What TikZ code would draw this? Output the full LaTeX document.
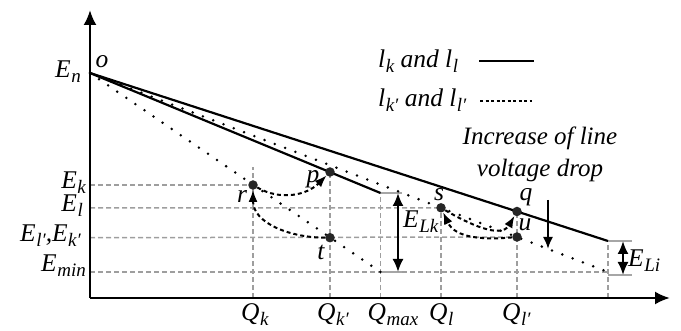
\documentclass[tikz,border=0pt]{standalone}
\usepackage{fontspec}
\setmainfont{Liberation Serif}
\usetikzlibrary{arrows.meta,calc,positioning}
\newcommand{\sub}[2]{#1\kern0.5pt\raisebox{-0.19em}{\fontsize{19}{20}\selectfont #2}}

\begin{document}
\begin{tikzpicture}[x=1pt,y=-1pt,font=\fontsize{25.5}{30}\selectfont\itshape,
  axis/.style={line width=2.4pt,-{Latex[length=15pt,width=13pt]}},
  solidln/.style={line width=2.2pt},
  dotln/.style={line width=2.8pt,line cap=round,dash pattern=on 0pt off 11pt},
  grid/.style={draw=black!38,line width=1.5pt,dash pattern=on 5pt off 3pt},
  bar/.style={draw=black!35,line width=2pt},
  dot/.style={circle,fill=black!85,inner sep=0pt,minimum size=9.5pt},
  curv/.style={line width=2pt,dash pattern=on 4pt off 3pt,-{Latex[length=12pt,width=9pt]}},
  dim/.style={line width=2pt,{Latex[length=13pt,width=11pt]}-{Latex[length=13pt,width=11pt]}},
  lbl/.style={inner sep=0pt}]
  \useasboundingbox (0,0) rectangle (681,331);
  % axis points
  \coordinate (O) at (90,298);
  \coordinate (ytop) at (90,10);
  \coordinate (xend) at (670,298);
  \coordinate (o) at (90,73);
  \coordinate (yEk) at (90,185);
  \coordinate (yEl) at (90,208);
  \coordinate (yEkk) at (90,237.7);
  \coordinate (yEmin) at (90,272);
  \coordinate (Qk) at (253,298);
  \coordinate (Qkk) at (330,298);
  \coordinate (Qmax) at (380.5,298);
  \coordinate (Ql) at (441,298);
  \coordinate (Qll) at (517,298);
  \coordinate (Qend) at (608,298);
  % line ends
  \coordinate (kend) at (380.5,193);
  \coordinate (lend) at (608,241);
  \coordinate (kkend) at (380.5,272);
  \coordinate (llend) at (608,272);
  \coordinate (rtop) at (253,167);
  % operating points
  \coordinate (r) at (253,185);
  \coordinate (p) at (330,172);
  \coordinate (t) at (330,237.7);
  \coordinate (s) at (441,207.8);
  \coordinate (q) at (517,211.5);
  \coordinate (u) at (517,237);

  % grid
  \draw[grid] (yEk) -- (r);
  \draw[grid] (yEl) -- (s);
  \draw[grid] (yEkk) -- (u);
  \draw[grid] (yEmin) -- (llend);
  \draw[grid] (Qk) -- (rtop);
  \draw[grid] (Qkk) -- (p);
  \draw[grid] (Qmax) -- (kend);
  \draw[grid] (Ql) -- (s);
  \draw[grid] (Qll) -- (q);
  \draw[grid] (Qend) -- (lend);

  % gray bars
  \coordinate (kbar) at (402,193);
  \coordinate (kkbar) at (402,272);
  \coordinate (lbar) at (632,241);
  \coordinate (llbar) at (632,275);
  \coordinate (llend2) at (608,275);
  \draw[bar] (kend) -- (kbar);
  \draw[bar] (kkend) -- (kkbar);
  \draw[bar] (lend) -- (lbar);
  \draw[bar] (llend2) -- (llbar);

  % characteristics
  \draw[solidln] (o) -- (kend);
  \draw[solidln] (o) -- (lend);
  \draw[dotln] (o) -- (kkend);
  \draw[dotln] (o) -- (llend);

  % axes
  \draw[axis] (O) -- (ytop);
  \draw[axis] (O) -- (xend);

  % dots on top
  \node[dot] (rd) at (r) {};
  \node[dot] (pd) at (p) {};
  \node[dot] (td) at (t) {};
  \node[dot] (sd) at (s) {};
  \node[dot] (qd) at (q) {};
  \node[dot] (ud) at (u) {};

  % moves
  \draw[curv] (rd) to[out=-30,in=-135] (pd);
  \draw[curv] (td) to[out=180,in=-90] (rd);
  \draw[curv] (sd) to[out=-30,in=-120] (qd);
  \draw[curv] (ud) to[out=185,in=-65] (sd);

  % drops
  \coordinate (Lk1) at (398,193);
  \coordinate (Lk2) at (398,272);
  \coordinate (Li1) at (623,241);
  \coordinate (Li2) at (623,275);
  \draw[dim] (Lk1) -- (Lk2);
  \draw[dim] (Li1) -- (Li2);
  \node[lbl,anchor=base west] (ELk) at (403,228) {\sub{E}{Lk}};
  \node[lbl,anchor=base west] (ELi) at (628,267) {\sub{E}{Li}};

  % labels
  \node[lbl,anchor=base east] (En) at (81,78) {\sub{E}{n}};
  \node[lbl,anchor=base] (olbl) at (102,68) {o};
  \node[lbl,anchor=base east] (Eklbl) at (86,189) {\sub{E}{k}};
  \node[lbl,anchor=base east] (Ellbl) at (83,212) {\sub{E}{l}};
  \node[lbl,anchor=base east] (Ekklbl) at (81,242) {\sub{E}{l′},\sub{E}{k′}};
  \node[lbl,anchor=base east] (Eminlbl) at (86,272) {\sub{E}{min}};
  \node[lbl,anchor=base west] at ($(Qk)+(-12,23)$) {\sub{Q}{k}};
  \node[lbl,anchor=base west] at ($(Qkk)+(-13,23)$) {\sub{Q}{k′}};
  \node[lbl,anchor=base west] at ($(Qmax)+(-13,23)$) {\sub{Q}{max}};
  \node[lbl,anchor=base west] at ($(Ql)+(-12,23)$) {\sub{Q}{l}};
  \node[lbl,anchor=base west] at ($(Qll)+(-15,23)$) {\sub{Q}{l′}};
  \node[lbl,anchor=base] at (242,203) {r};
  \node[lbl,anchor=base] at (313,183) {p};
  \node[lbl,anchor=base] at (321,260) {t};
  \node[lbl,anchor=base] at (439,201) {s};
  \node[lbl,anchor=base] at (526,201) {q};
  \node[lbl,anchor=base] at (525,231) {u};

  % legend
  \node[lbl,anchor=base west] (leg1) at (378,68) {\sub{l}{k} and \sub{l}{l}};
  \node[lbl,anchor=base west] (leg2) at (378,107) {\sub{l}{k′} and \sub{l}{l′}};
  \coordinate (s1) at (479,61);
  \coordinate (s2) at (534,61);
  \coordinate (d1) at (480,101);
  \coordinate (d2) at (532,101);
  \draw[solidln] (s1) -- (s2);
  \draw[line width=2pt,dash pattern=on 3pt off 2.5pt] (d1) -- (d2);

  % voltage drop
  \node[lbl,align=center,font=\fontsize{25}{32}\selectfont\itshape] (incr) at (540,154) {Increase of line\\voltage drop};
  \coordinate (a1) at (548,200);
  \coordinate (a2) at (548,249);
  \draw[line width=2pt,-{Latex[length=12pt,width=10pt]}] (a1) -- (a2);
\end{tikzpicture}
\end{document}
